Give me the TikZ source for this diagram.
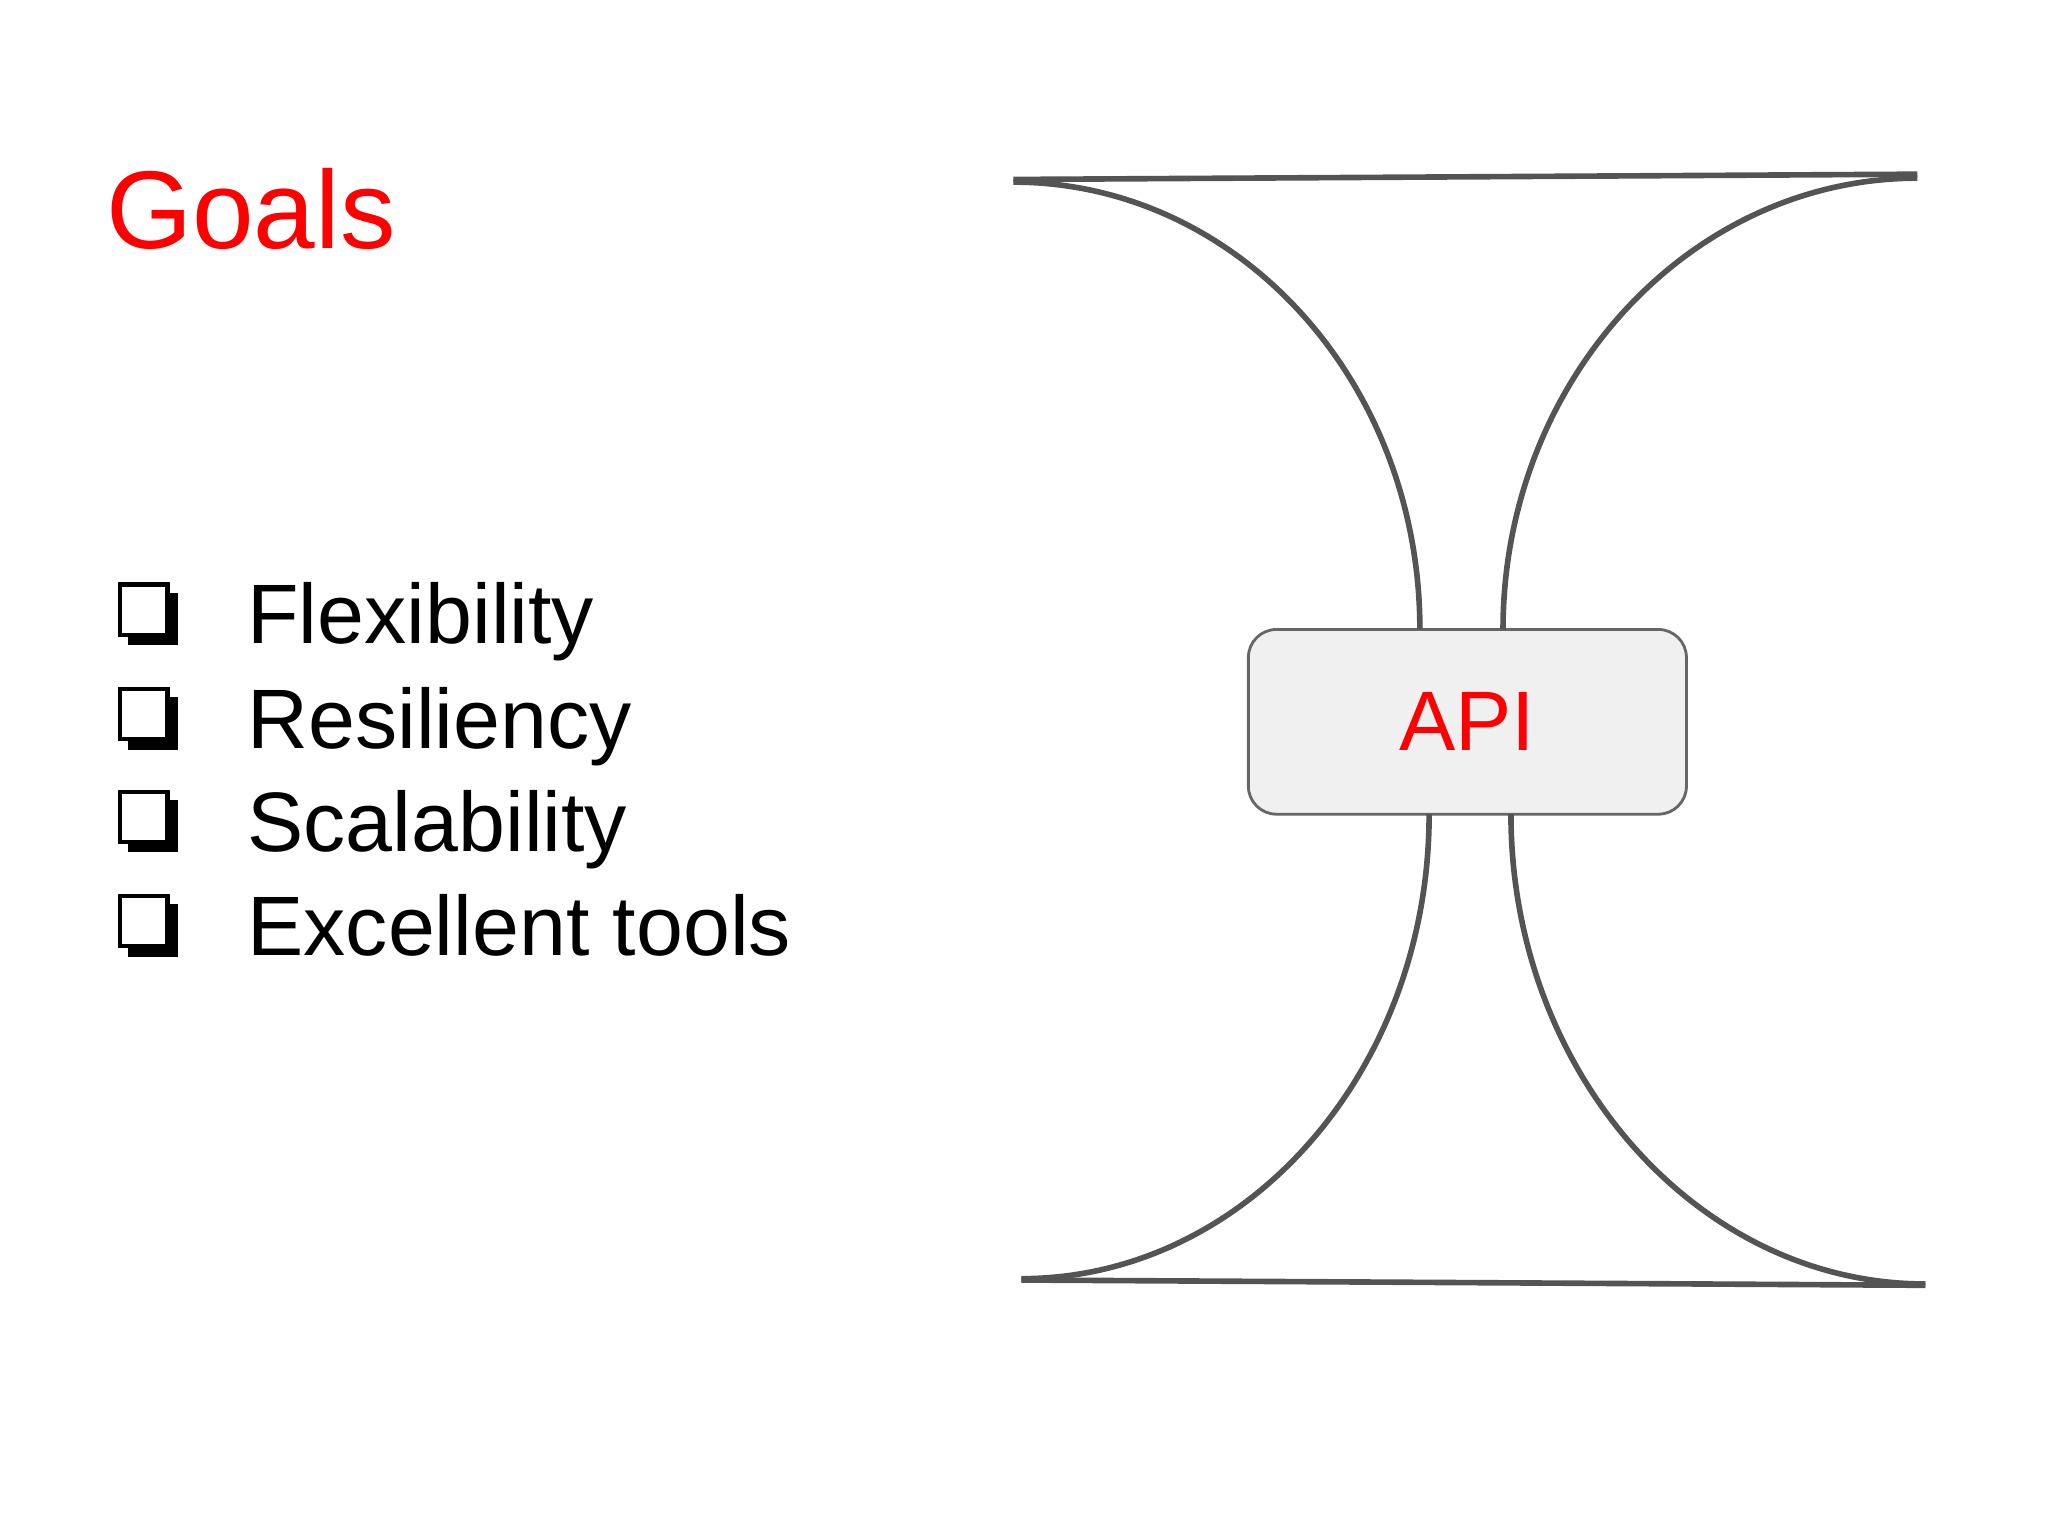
\documentclass[tikz,border=0pt]{standalone}
\usepackage{fontspec}
\setmainfont{Liberation Sans}
\begin{document}
\begin{tikzpicture}[x=0.013196cm,y=-0.013196cm,
  hg/.style={draw=black!67,line width=1.6pt},
  item/.style={anchor=base west,inner sep=0pt,font=\fontsize{24}{28}\selectfont},
  chk/.style={draw=black,line width=1.2pt,fill=white}]
\useasboundingbox (0,0) rectangle (1552,1164);
\node[anchor=base west,inner sep=0pt,text=red,font=\fontsize{31.5}{36}\selectfont] (title) at (80,188) {Goals};
\foreach \y/\t [count=\i] in {488/Flexibility,567/Resiliency,645/Scalability,724/Excellent tools}{
  \fill (97,\y-39) rectangle (135,\y+1);
  \draw[chk] (91,\y-45) rectangle (127,\y-7);
  \node[item] (it\i) at (187,\y) {\t};
}
\draw[draw=black!60,line width=0.8pt,fill=gray!12,rounded corners=8pt] (946,477) rectangle (1278,617);
\node[text=red,font=\fontsize{24}{28}\selectfont] (apil) at (1112,547) {API};
\coordinate (tl) at (768,136); \coordinate (tr) at (1453,132);
\coordinate (bl) at (774,970); \coordinate (br) at (1459,974);
\draw[hg] (tl) -- (tr);
\draw[hg] (bl) -- (br);
\draw[hg] (768,138) .. controls (938,138) and (1076,289) .. (1076,477);
\draw[hg] (1453,135) .. controls (1280,135) and (1139,289) .. (1139,477);
\draw[hg] (1083,617) .. controls (1083,812) and (944,969) .. (774,969);
\draw[hg] (1145,617) .. controls (1145,812) and (1286,973) .. (1459,973);
\end{tikzpicture}
\end{document}
